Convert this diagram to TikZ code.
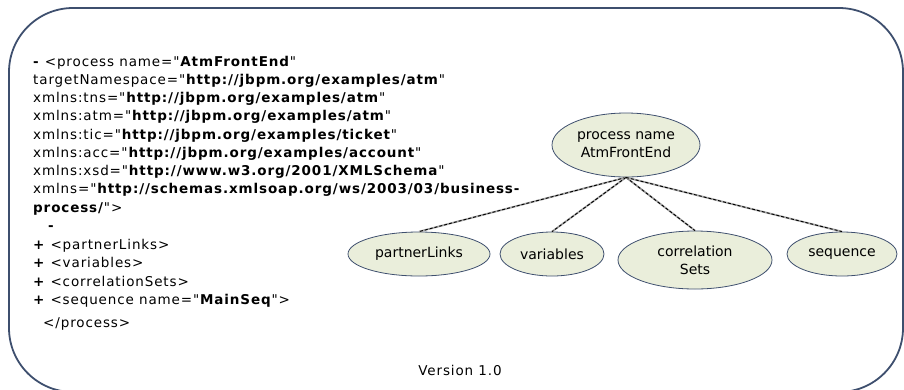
\documentclass[tikz,border=0pt]{standalone}
\usepackage{fontspec}
\setmainfont{DejaVu Sans}[Ligatures=TeXOff]
\newfontfamily\codefont{DejaVu Sans}[Ligatures=TeXOff, LetterSpace=6.5]
\usetikzlibrary{positioning, shapes.geometric}

\definecolor{framecol}{HTML}{3E4F6E}
\definecolor{ovalfill}{HTML}{EAEEDB}

\begin{document}
\begin{tikzpicture}[
    x=1pt, y=-1pt,
    every node/.style={inner sep=0pt},
    code/.style={anchor=base west, font=\codefont\fontsize{13.5}{16}\selectfont},
    oval/.style={ellipse, draw=framecol, fill=ovalfill, line width=0.8pt,
        align=center, font=\fontsize{14}{18}\selectfont,
        minimum width=104pt, minimum height=44pt},
    link/.style={draw=gray!70, line width=1.8pt,
        postaction={draw=black, line width=0.9pt, densely dashed}}
]
\useasboundingbox (0,0) rectangle (904,389);

% Frame
\draw[framecol, line width=1.8pt, rounded corners=64pt] (9,8) rectangle (903,392);

% XML listing
\node[code] (l1) at (33,66) {\textbf{-} <process name="\textbf{AtmFrontEnd}"};
\node[code] (l2) at (33,84) {targetNamespace="\textbf{http://jbpm.org/examples/atm}"};
\node[code] (l3) at (33,102) {xmlns:tns="\textbf{http://jbpm.org/examples/atm}"};
\node[code] (l4) at (33,120) {xmlns:atm="\textbf{http://jbpm.org/examples/atm}"};
\node[code] (l5) at (33,139) {xmlns:tic="\textbf{http://jbpm.org/examples/ticket}"};
\node[code] (l6) at (33,157) {xmlns:acc="\textbf{http://jbpm.org/examples/account}"};
\node[code] (l7) at (33,175) {xmlns:xsd="\textbf{http://www.w3.org/2001/XMLSchema}"};
\node[code] (l8) at (33,193) {xmlns="\textbf{http://schemas.xmlsoap.org/ws/2003/03/business-}};
\node[code] (l9) at (33,212) {\textbf{process/}">};
\node[code] (l10) at (48,230) {\textbf{-}};
\node[code] (l11) at (33,249) {\textbf{+} <partnerLinks>};
\node[code] (l12) at (33,267) {\textbf{+} <variables>};
\node[code] (l13) at (33,286) {\textbf{+} <correlationSets>};
\node[code] (l14) at (33,304) {\textbf{+} <sequence name="\textbf{MainSeq}">};
\node[code] (l15) at (43,327) {</process>};

% Tree
\node[oval, minimum width=148pt, minimum height=64pt] (proc) at (626,145) {process name\\AtmFrontEnd};
\node[oval, minimum width=142pt] (plinks) at (419,254) {partnerLinks};
\node[oval] (vars) at (552,254) {variables};
\node[oval, minimum width=154pt, minimum height=58pt] (corr) at (695,260) {correlation\\Sets};
\node[oval, minimum width=110pt] (seq) at (842,254) {sequence};

% Links
\draw[link] (proc.south) -- (plinks.north);
\draw[link] (proc.south) -- (vars.north);
\draw[link] (proc.south) -- (corr.north);
\draw[link] (proc.south) -- (seq.north);

\node[code, anchor=center] (ver) at (460,370) {Version 1.0};
\end{tikzpicture}
\end{document}
